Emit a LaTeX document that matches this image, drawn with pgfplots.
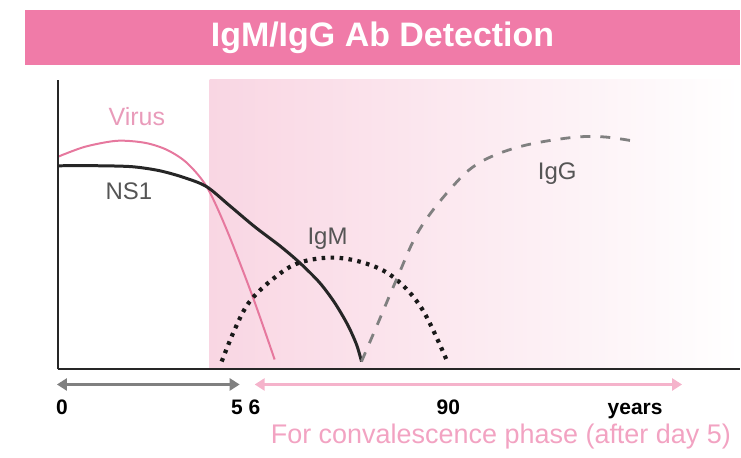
\documentclass[border=0pt]{standalone}
\usepackage{pgfplots}
\pgfplotsset{compat=1.18}
\usepackage{fontspec}
\setmainfont{Liberation Sans}
\usetikzlibrary{arrows.meta}
\definecolor{banner}{HTML}{F07BA8}
\definecolor{viruspink}{HTML}{E6789E}
\definecolor{virustext}{HTML}{E99BBA}
\definecolor{shadepink}{HTML}{F9D6E3}
\definecolor{subpink}{HTML}{F2A3C2}
\definecolor{arrowpink}{HTML}{F5B3CB}
\definecolor{labelgray}{HTML}{555555}
\begin{document}
\begin{tikzpicture}
\begin{axis}[
  x=0.5pt, y=0.5pt,
  xmin=58, xmax=741, ymin=0, ymax=290,
  axis lines*=left,
  axis line style={line width=1pt, color=black!85},
  xtick=\empty, ytick=\empty,
  clip=false,
  axis on top,
]
% bounding box of the whole picture (741 x 458 px)
\path (axis cs:0,-88) rectangle (axis cs:741,370);
% shaded convalescence region
\fill[left color=shadepink, right color=white, shading angle=90] (axis cs:210,0) rectangle (axis cs:741,290);
% title banner
\fill[banner] (axis cs:25,305) rectangle (axis cs:741,360);
\node[text=white, font=\fontsize{17}{20}\selectfont\bfseries] at (axis cs:383,332) {IgM/IgG Ab Detection};

% Virus
\addplot[viruspink, line width=1pt, smooth, tension=0.5] coordinates {
(58,213) (85,223) (117,229) (145,227) (167,220) (187,207) (207,183) (227,140) (253,73) (275,10)};
% NS1
\addplot[black!85, line width=1.5pt, smooth, tension=0.5] coordinates {
(58,204) (100,204) (133,203) (160,199) (185,192) (207,183) (230,164) (255,143) (280,124) (300,107) (320,87) (335,67) (348,45) (357,25) (362,8)};
% IgM
\addplot[black!90, line width=2.1pt, dash pattern=on 1.8pt off 2.7pt, smooth, tension=0.6] coordinates {
(222,8) (235,40) (250,68) (275,92) (300,107) (335,112) (370,105) (397,90) (423,60) (447,10)};
% IgG
\addplot[black!50, line width=1.4pt, dash pattern=on 5pt off 5pt, smooth, tension=0.6] coordinates {
(362,8) (380,50) (397,90) (420,140) (453,183) (480,207) (520,223) (570,232) (603,233) (633,229)};

% curve labels
\node[text=virustext, font=\fontsize{12.5}{14}\selectfont] at (axis cs:137,253) {Virus};
\node[text=labelgray, font=\fontsize{12}{14}\selectfont] at (axis cs:129,178) {NS1};
\node[text=labelgray, font=\fontsize{12}{14}\selectfont] at (axis cs:328,131) {IgM};
\node[text=labelgray, font=\fontsize{12}{14}\selectfont] at (axis cs:558,196) {IgG};

% phase arrows
\draw[black!50, line width=1.5pt, {Triangle[length=5pt,width=6pt]}-{Triangle[length=5pt,width=6pt]}] (axis cs:57,-15) -- (axis cs:240,-15);
\draw[arrowpink, line width=1.5pt, {Triangle[length=5pt,width=6pt]}-{Triangle[length=5pt,width=6pt]}] (axis cs:255,-15) -- (axis cs:683,-15);

% time labels
\node[anchor=base, font=\fontsize{10.5}{12}\selectfont\bfseries] at (axis cs:62,-45) {0};
\node[anchor=base, font=\fontsize{10.5}{12}\selectfont\bfseries] at (axis cs:246,-45) {5 6};
\node[anchor=base, font=\fontsize{10.5}{12}\selectfont\bfseries] at (axis cs:449,-45) {90};
\node[anchor=base, font=\fontsize{10.5}{12}\selectfont\bfseries] at (axis cs:636,-45) {years};
\node[anchor=east, text=subpink, font=\fontsize{13.5}{16}\selectfont] at (axis cs:739,-67) {For convalescence phase (after day 5)};
\end{axis}
\end{tikzpicture}
\end{document}
